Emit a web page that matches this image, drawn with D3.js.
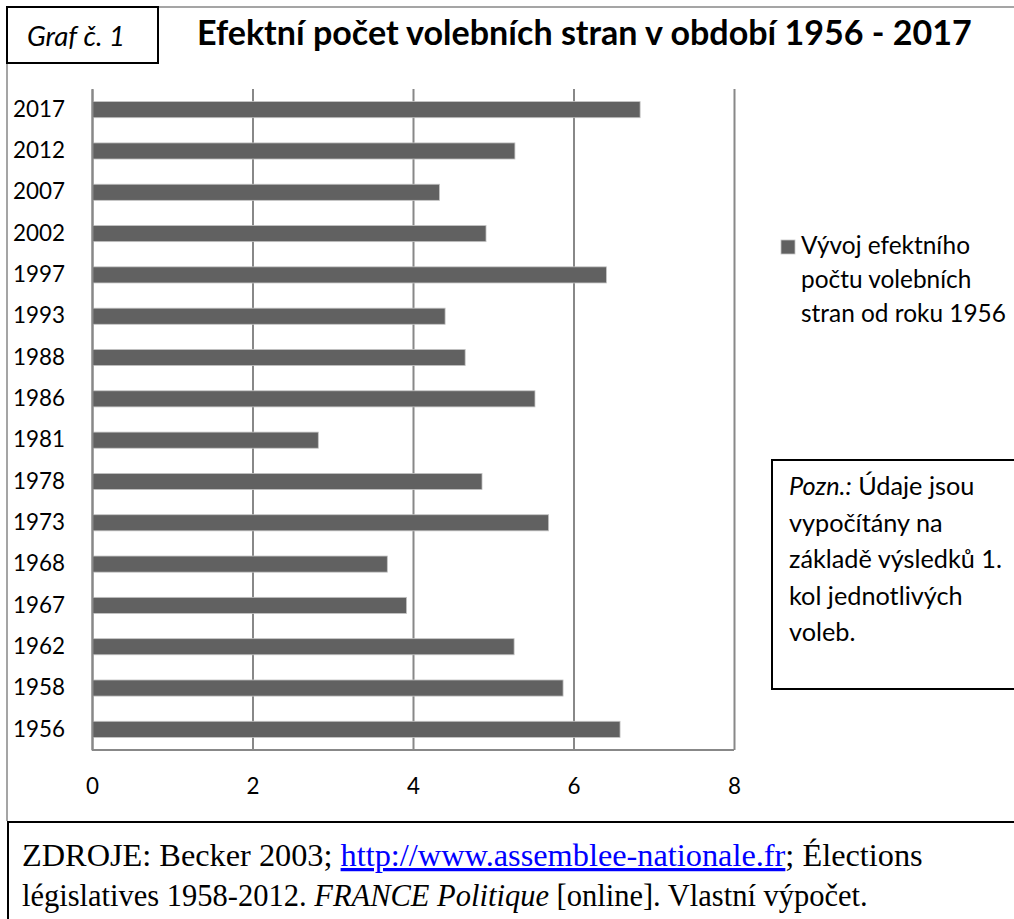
<!DOCTYPE html>
<html>
<head>
<meta charset="utf-8">
<script src="https://cdn.jsdelivr.net/npm/d3@7"></script>
<style>
  body { margin: 0; background: #fff; }
  svg { display: block; }
</style>
</head>
<body>
<div id="vis"></div>
<script>
// data //////////////////////////////////////////////////////
const years = ["1956", "1958", "1962", "1967", "1968", "1973", "1978", "1981",
               "1986", "1988", "1993", "1997", "2002", "2007", "2012", "2017"];
const values = [6.58, 5.87, 5.26, 3.92, 3.68, 5.69, 4.86, 2.82,
                5.52, 4.65, 4.40, 6.41, 4.91, 4.33, 5.27, 6.83];
const xTicks = [0, 2, 4, 6, 8];
const title = "Efektní počet volebních stran v období 1956 - 2017";
const legendLines = ["Vývoj efektního", "počtu volebních", "stran od roku 1956"];
const noteLines = ["Údaje jsou", "vypočítány na", "základě výsledků 1.", "kol jednotlivých", "voleb."];

// setting up ////////////////////////////////////////////////
const width = 1014, height = 919;
const FONT = "Lato, Calibri, 'Open Sans', sans-serif";
const SERIF = "'Liberation Serif', 'Times New Roman', serif";
const GRID = "#888888";
const BAR = "#616161";

const svg = d3.select("#vis").append("svg")
  .attr("width", width).attr("height", height)
  .attr("font-family", FONT);

// scale font so that the text fills a given width
function fit(sel, w) {
  const len = sel.node().getComputedTextLength();
  const fs = parseFloat(sel.attr("font-size"));
  sel.attr("font-size", fs * w / len);
  return fs * w / len;
}

// outer frame
svg.append("path")
  .attr("d", "M7,63 V821 M158,7 H1014")
  .attr("stroke", GRID).attr("stroke-width", 1.5).attr("fill", "none");

// "Graf č. 1" box
svg.append("rect")
  .attr("x", 7).attr("y", 7).attr("width", 151).attr("height", 56)
  .attr("fill", "#fff").attr("stroke", "#000").attr("stroke-width", 2);
const graf = svg.append("text")
  .attr("x", 27).attr("y", 46).attr("font-size", 22)
  .attr("font-style", "italic").text("Graf č. 1");
fit(graf, 98);

// title
const t = svg.append("text")
  .attr("x", 197).attr("y", 45).attr("font-size", 30)
  .attr("font-weight", "bold").text(title);
fit(t, 775);

// scales ////////////////////////////////////////////////////
const x = d3.scaleLinear().domain([0, 8]).range([92, 734]);
const y = d3.scaleBand().domain(years.slice().reverse()).range([89, 750])
  .paddingInner(0.61).paddingOuter(0.305);

// gridlines
svg.append("g")
  .attr("transform", "translate(0,750)")
  .call(d3.axisBottom(x).tickValues(xTicks).tickSize(-(750 - 89)).tickFormat(""))
  .call(g => g.select(".domain").remove())
  .call(g => g.selectAll("line").attr("stroke", GRID).attr("stroke-width", 2));

// axis lines
svg.append("line").attr("x1", 92).attr("x2", 734).attr("y1", 750).attr("y2", 750)
  .attr("stroke", GRID).attr("stroke-width", 2);

// bars
svg.append("g").selectAll("rect")
  .data(years)
  .join("rect")
  .attr("x", x(0))
  .attr("y", d => y(d))
  .attr("height", y.bandwidth())
  .attr("width", (d, i) => x(values[i]) - x(0))
  .attr("fill", BAR)
  .attr("stroke", "#c4c4c4").attr("stroke-width", 0.8);

// y labels
const yAxis = svg.append("g")
  .attr("transform", "translate(92,0)")
  .call(d3.axisLeft(y).tickSize(0).tickPadding(27));
yAxis.select(".domain").attr("stroke", GRID).attr("stroke-width", 2);
yAxis.selectAll("text").attr("font-family", FONT).attr("font-size", 22).attr("fill", "#000");
const afs = fit(d3.select(yAxis.selectAll("text").nodes()[0]), 52);
yAxis.selectAll("text").attr("font-size", afs);

// x tick labels
const xAxis = svg.append("g")
  .attr("transform", "translate(0,750)")
  .call(d3.axisBottom(x).tickValues(xTicks).tickSize(0).tickPadding(28))
  .call(g => g.select(".domain").remove());
xAxis.selectAll("text").attr("font-family", FONT).attr("font-size", afs).attr("fill", "#000");

// legend ////////////////////////////////////////////////////
svg.append("rect")
  .attr("x", 781).attr("y", 240).attr("width", 14).attr("height", 14)
  .attr("fill", BAR).attr("stroke", "#c4c4c4").attr("stroke-width", 0.8);
const lgLines = svg.append("g").selectAll("text")
  .data(legendLines)
  .join("text")
  .attr("x", 801)
  .attr("y", (d, i) => 254 + i * 34)
  .attr("font-size", 22)
  .text(d => d);
const lfs = fit(d3.select(lgLines.nodes()[2]), 205);
lgLines.attr("font-size", lfs);

// note box //////////////////////////////////////////////////
svg.append("rect")
  .attr("x", 772).attr("y", 460).attr("width", 300).attr("height", 229)
  .attr("fill", "#fff").attr("stroke", "#000").attr("stroke-width", 2);
const nt = svg.append("g").selectAll("text")
  .data(noteLines)
  .join("text")
  .attr("x", 789)
  .attr("y", (d, i) => 495 + i * 36.5)
  .attr("font-size", 22);
nt.each(function(d, i) {
  const s = d3.select(this);
  if (i === 0) {
    s.append("tspan").attr("font-style", "italic").text("Pozn.:");
    s.append("tspan").text(" " + d);
  } else {
    s.text(d);
  }
});
const nfs = fit(d3.select(nt.nodes()[2]), 213);
nt.attr("font-size", nfs);

// source box ////////////////////////////////////////////////
svg.append("rect")
  .attr("x", 8).attr("y", 822).attr("width", 1100).attr("height", 200)
  .attr("fill", "#fff").attr("stroke", "#000").attr("stroke-width", 2);
const s1 = svg.append("text")
  .attr("x", 22).attr("y", 866).attr("font-family", SERIF).attr("font-size", 26);
s1.append("tspan").text("ZDROJE: Becker 2003; ");
s1.append("tspan").attr("fill", "#0000ff").attr("text-decoration", "underline")
  .text("http://www.assemblee-nationale.fr");
s1.append("tspan").text("; Élections");
fit(s1, 901);
const s2 = svg.append("text")
  .attr("x", 22).attr("y", 906).attr("font-family", SERIF).attr("font-size", 26);
s2.append("tspan").text("législatives 1958-2012. ");
s2.append("tspan").attr("font-style", "italic").text("FRANCE Politique");
s2.append("tspan").text(" [online]. Vlastní výpočet.");
fit(s2, 846);
</script>
</body>
</html>
